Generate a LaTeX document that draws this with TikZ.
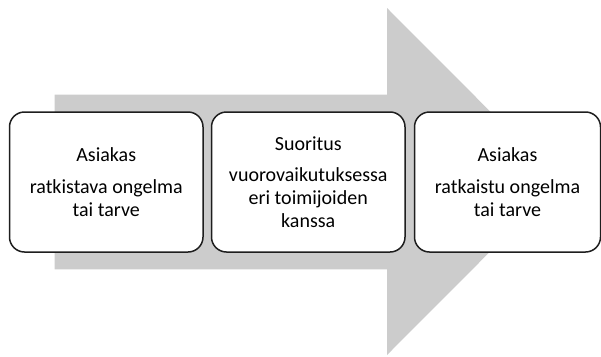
\documentclass[tikz,border=0pt]{standalone}
\usepackage{fontspec}
\setmainfont{Carlito}
\definecolor{arrowgray}{RGB}{204,204,204}
\definecolor{boxline}{RGB}{30,30,30}
\begin{document}
\begin{tikzpicture}[x=1pt,y=-1pt,
  stagebox/.style={draw=boxline, line width=1.5pt, fill=white,
    rounded corners=15pt, minimum height=140pt, align=center,
    inner sep=0pt, font=\fontsize{20}{23}\selectfont}]
  \useasboundingbox (0,0) rectangle (601,356);
  % wide gray process arrow in the background
  \fill[arrowgray] (54.5,94.5) -- (387,94.5) -- (387,8) -- (560,181.5)
    -- (387,355) -- (387,269.3) -- (54.5,269.3) -- cycle;
  % three stages
  \node[stagebox, minimum width=193.5pt] (need) at (106.25,182)
    {Asiakas\\[8.5pt]ratkistava ongelma\\tai tarve};
  \node[stagebox, minimum width=193.5pt] (service) at (308.25,182)
    {Suoritus\\[8.5pt]vuorovaikutuksessa\\eri toimijoiden\\kanssa};
  \node[stagebox, minimum width=186pt] (solved) at (507.5,182)
    {Asiakas\\[8.5pt]ratkaistu ongelma\\tai tarve};
\end{tikzpicture}
\end{document}
